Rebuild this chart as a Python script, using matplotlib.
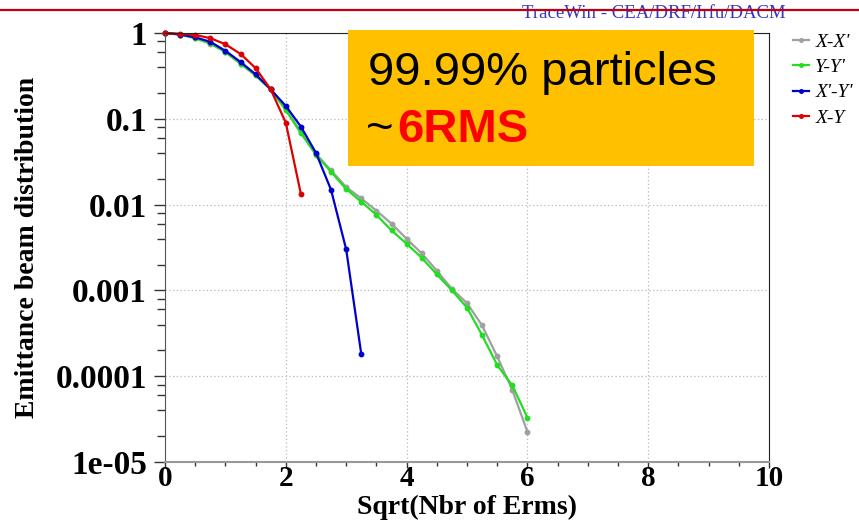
import matplotlib
matplotlib.use("Agg")
import matplotlib.pyplot as plt
from matplotlib.patches import Rectangle
from matplotlib.lines import Line2D
from matplotlib.ticker import FixedLocator, FixedFormatter, MultipleLocator, NullFormatter

# ---------------- data ----------------
step = 0.25
x_xx = [i * step for i in range(25)]
v_xx = [1.0, 0.96, 0.87, 0.75, 0.60, 0.44, 0.32, 0.22, 0.13, 0.070, 0.039, 0.025,
        0.016, 0.0118, 0.0085, 0.0060, 0.0040, 0.0027, 0.0017, 0.00104, 0.00071,
        0.00039, 0.00017, 0.000069, 0.0000225]
x_yy = [i * step for i in range(25)]
v_yy = [1.0, 0.96, 0.87, 0.76, 0.60, 0.44, 0.32, 0.22, 0.126, 0.068, 0.038, 0.024,
        0.0152, 0.0108, 0.0076, 0.0050, 0.0035, 0.0024, 0.00154, 0.0010, 0.00063,
        0.00030, 0.000135, 0.000078, 0.000033]
x_xpyp = [i * step for i in range(14)]
v_xpyp = [1.0, 0.96, 0.89, 0.79, 0.62, 0.46, 0.33, 0.22, 0.141, 0.081, 0.040,
          0.0148, 0.0030, 0.00018]
x_xy = [i * step for i in range(10)]
v_xy = [1.0, 0.98, 0.95, 0.87, 0.74, 0.57, 0.39, 0.22, 0.090, 0.0133]

series_labels = ["X-X'", "Y-Y'", "X'-Y'", "X-Y"]
series_colors = ["#a0a0a0", "#22dd22", "#0000cc", "#dd0000"]

x_ticks = [0, 2, 4, 6, 8, 10]
x_tick_labels = ["0", "2", "4", "6", "8", "10"]
y_ticks = [1, 0.1, 0.01, 0.001, 0.0001, 1e-05]
y_tick_labels = ["1", "0.1", "0.01", "0.001", "0.0001", "1e-05"]

x_label = "Sqrt(Nbr of Erms)"
y_label = "Emittance beam distribution"
header = "TraceWin - CEA/DRF/Irfu/DACM"
box_line1 = "99.99% particles"
box_tilde = "~"
box_line2 = "6RMS"

# ---------------- figure ----------------
W, H = 859, 520
fig = plt.figure(figsize=(W / 100, H / 100), dpi=100)
ax = fig.add_axes([165 / W, 58 / H, 604 / W, 429 / H])

serif = ["Liberation Serif", "DejaVu Serif"]

handles = []
for xs, ys, c in zip([x_xx, x_yy, x_xpyp, x_xy], [v_xx, v_yy, v_xpyp, v_xy], series_colors):
    h, = ax.plot(xs, ys, color=c, lw=1.6, marker="o", ms=3.2, mec=c, mfc=c,
                 zorder=3, clip_on=False)
    handles.append(h)

ax.set_yscale("log")
ax.set_xlim(0, 10)
ax.set_ylim(1e-5, 1)

ax.xaxis.set_major_locator(FixedLocator(x_ticks))
ax.xaxis.set_major_formatter(FixedFormatter(x_tick_labels))
ax.xaxis.set_minor_locator(MultipleLocator(0.5))
ax.yaxis.set_major_locator(FixedLocator(y_ticks))
ax.yaxis.set_major_formatter(FixedFormatter(y_tick_labels))
minor_y = [m * 10.0 ** e for e in range(-5, 0) for m in (2, 4, 6, 8)]
ax.yaxis.set_minor_locator(FixedLocator(minor_y))
ax.yaxis.set_minor_formatter(NullFormatter())

ax.tick_params(axis="y", which="major", direction="out", length=8, width=1.0,
               color="#333333", pad=5)
ax.tick_params(axis="y", which="minor", direction="out", length=6, width=1.0, color="#333333")
ax.tick_params(axis="x", which="major", direction="out", length=4, width=1.0,
               color="#333333", pad=-2)
ax.tick_params(axis="x", which="minor", direction="out", length=3, width=1.0, color="#333333")

for lab in ax.get_xticklabels():
    lab.set_fontfamily(serif)
    lab.set_fontweight("bold")
    lab.set_fontsize(21)
for lab in ax.get_yticklabels():
    lab.set_fontfamily(serif)
    lab.set_fontweight("bold")
    lab.set_fontsize(24)

ax.grid(True, which="major", color="#b8b8b8", linestyle=(0, (1, 2)), lw=0.9, zorder=0)

ax.spines["top"].set_color("#222222")
ax.spines["right"].set_color("#222222")
ax.spines["left"].set_color("#555555")
ax.spines["bottom"].set_color("#999999")
ax.spines["bottom"].set_linewidth(1.5)
for s in ax.spines.values():
    s.set_zorder(4)

fig.text(467 / W, 0.5 / H, x_label, ha="center", va="bottom",
         family=serif, weight="bold", fontsize=20)
fig.text(28 / W, 1 - 247.5 / H, y_label, ha="center", va="center", rotation=90,
         family=serif, weight="bold", fontsize=20)

leg = fig.legend(handles, series_labels, loc="upper left",
                 bbox_to_anchor=(793 / W, 1 - 33 / H), frameon=False,
                 prop={"family": serif, "style": "italic", "size": 14},
                 handlelength=0.8, handletextpad=0.35, labelspacing=0.4,
                 borderpad=0, borderaxespad=0, numpoints=1, markerscale=0.8)

# header line and text
fig.text(522 / W, 1 - 18 / H, header, ha="left", va="baseline", family=serif,
         fontsize=13.5, color="#3535c0", zorder=1)
fig.add_artist(Line2D([0, 1], [1 - 10 / H] * 2, color="#c00010", lw=1.6,
                      transform=fig.transFigure, zorder=2))

# yellow annotation box
fig.add_artist(Rectangle((348 / W, 1 - 166 / H), 406 / W, 136 / H,
                         transform=fig.transFigure, facecolor="#FFC000",
                         edgecolor="none", zorder=10))
sans = ["Liberation Sans", "DejaVu Sans"]
fig.text(368 / W, 1 - 85 / H, box_line1, ha="left", va="baseline", family=sans,
         fontsize=34, color="black", zorder=11)
fig.text(366 / W, 1 - 141.7 / H, box_tilde, ha="left", va="baseline", family=sans,
         fontsize=34, color="black", zorder=11)
fig.text(397 / W, 1 - 141.7 / H, box_line2, ha="left", va="baseline", family=sans,
         fontsize=34, weight="bold", color="#ff0000", zorder=11)

fig.savefig("out.png", dpi=100)
